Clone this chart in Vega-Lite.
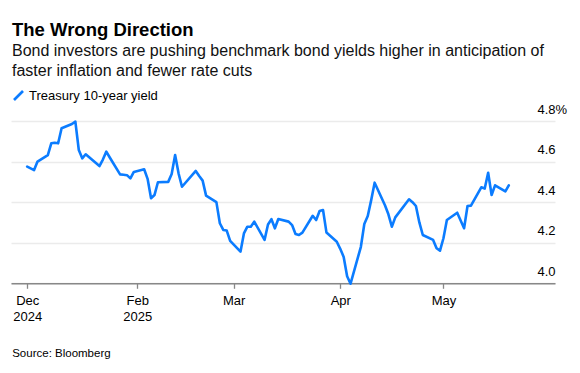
{
  "$schema": "https://vega.github.io/schema/vega-lite/v6.json",
  "width": 544,
  "height": 162.3,
  "autosize": {"type": "none"},
  "padding": {"left": 11, "top": 121, "right": 25, "bottom": 89.7},
  "background": "white",
  "config": {
    "font": "Liberation Sans",
    "view": {"stroke": null}
  },
  "title": {
    "text": "The Wrong Direction",
    "subtitle": ["Bond investors are pushing benchmark bond yields higher in anticipation of", "faster inflation and fewer rate cuts"],
    "anchor": "start",
    "frame": "group",
    "orient": "top",
    "dx": 1,
    "offset": 10,
    "font": "Liberation Sans",
    "fontSize": 18.5,
    "fontWeight": "bold",
    "color": "#000000",
    "subtitleFont": "Liberation Sans",
    "subtitleFontSize": 16,
    "subtitleLineHeight": 20,
    "subtitleColor": "#111111",
    "subtitlePadding": 4
  },
  "data": {
    "values": [
      {"date": "2024-12-31", "yield": 4.575},
      {"date": "2025-01-02", "yield": 4.558},
      {"date": "2025-01-03", "yield": 4.600},
      {"date": "2025-01-06", "yield": 4.632},
      {"date": "2025-01-07", "yield": 4.690},
      {"date": "2025-01-08", "yield": 4.693},
      {"date": "2025-01-09", "yield": 4.690},
      {"date": "2025-01-10", "yield": 4.764},
      {"date": "2025-01-13", "yield": 4.785},
      {"date": "2025-01-14", "yield": 4.797},
      {"date": "2025-01-15", "yield": 4.657},
      {"date": "2025-01-16", "yield": 4.616},
      {"date": "2025-01-17", "yield": 4.636},
      {"date": "2025-01-21", "yield": 4.578},
      {"date": "2025-01-22", "yield": 4.610},
      {"date": "2025-01-23", "yield": 4.649},
      {"date": "2025-01-24", "yield": 4.620},
      {"date": "2025-01-27", "yield": 4.537},
      {"date": "2025-01-28", "yield": 4.535},
      {"date": "2025-01-29", "yield": 4.533},
      {"date": "2025-01-30", "yield": 4.517},
      {"date": "2025-01-31", "yield": 4.549},
      {"date": "2025-02-03", "yield": 4.562},
      {"date": "2025-02-04", "yield": 4.515},
      {"date": "2025-02-05", "yield": 4.419},
      {"date": "2025-02-06", "yield": 4.435},
      {"date": "2025-02-07", "yield": 4.498},
      {"date": "2025-02-10", "yield": 4.500},
      {"date": "2025-02-11", "yield": 4.539},
      {"date": "2025-02-12", "yield": 4.632},
      {"date": "2025-02-13", "yield": 4.542},
      {"date": "2025-02-14", "yield": 4.476},
      {"date": "2025-02-18", "yield": 4.554},
      {"date": "2025-02-19", "yield": 4.529},
      {"date": "2025-02-20", "yield": 4.506},
      {"date": "2025-02-21", "yield": 4.432},
      {"date": "2025-02-24", "yield": 4.400},
      {"date": "2025-02-25", "yield": 4.296},
      {"date": "2025-02-26", "yield": 4.263},
      {"date": "2025-02-27", "yield": 4.260},
      {"date": "2025-02-28", "yield": 4.209},
      {"date": "2025-03-03", "yield": 4.156},
      {"date": "2025-03-04", "yield": 4.246},
      {"date": "2025-03-05", "yield": 4.279},
      {"date": "2025-03-06", "yield": 4.279},
      {"date": "2025-03-07", "yield": 4.304},
      {"date": "2025-03-10", "yield": 4.214},
      {"date": "2025-03-11", "yield": 4.290},
      {"date": "2025-03-12", "yield": 4.316},
      {"date": "2025-03-13", "yield": 4.271},
      {"date": "2025-03-14", "yield": 4.317},
      {"date": "2025-03-17", "yield": 4.304},
      {"date": "2025-03-18", "yield": 4.287},
      {"date": "2025-03-19", "yield": 4.243},
      {"date": "2025-03-20", "yield": 4.238},
      {"date": "2025-03-21", "yield": 4.250},
      {"date": "2025-03-24", "yield": 4.333},
      {"date": "2025-03-25", "yield": 4.312},
      {"date": "2025-03-26", "yield": 4.356},
      {"date": "2025-03-27", "yield": 4.361},
      {"date": "2025-03-28", "yield": 4.250},
      {"date": "2025-03-31", "yield": 4.205},
      {"date": "2025-04-01", "yield": 4.170},
      {"date": "2025-04-02", "yield": 4.130},
      {"date": "2025-04-03", "yield": 4.035},
      {"date": "2025-04-04", "yield": 3.998},
      {"date": "2025-04-07", "yield": 4.180},
      {"date": "2025-04-08", "yield": 4.292},
      {"date": "2025-04-09", "yield": 4.332},
      {"date": "2025-04-10", "yield": 4.410},
      {"date": "2025-04-11", "yield": 4.496},
      {"date": "2025-04-14", "yield": 4.385},
      {"date": "2025-04-15", "yield": 4.340},
      {"date": "2025-04-16", "yield": 4.279},
      {"date": "2025-04-17", "yield": 4.325},
      {"date": "2025-04-21", "yield": 4.414},
      {"date": "2025-04-22", "yield": 4.400},
      {"date": "2025-04-23", "yield": 4.381},
      {"date": "2025-04-24", "yield": 4.300},
      {"date": "2025-04-25", "yield": 4.238},
      {"date": "2025-04-28", "yield": 4.214},
      {"date": "2025-04-29", "yield": 4.173},
      {"date": "2025-04-30", "yield": 4.161},
      {"date": "2025-05-01", "yield": 4.222},
      {"date": "2025-05-02", "yield": 4.312},
      {"date": "2025-05-05", "yield": 4.348},
      {"date": "2025-05-06", "yield": 4.310},
      {"date": "2025-05-07", "yield": 4.271},
      {"date": "2025-05-08", "yield": 4.381},
      {"date": "2025-05-09", "yield": 4.383},
      {"date": "2025-05-12", "yield": 4.473},
      {"date": "2025-05-13", "yield": 4.467},
      {"date": "2025-05-14", "yield": 4.545},
      {"date": "2025-05-15", "yield": 4.435},
      {"date": "2025-05-16", "yield": 4.483},
      {"date": "2025-05-19", "yield": 4.453},
      {"date": "2025-05-20", "yield": 4.483}
    ]
  },
  "mark": {"type": "line", "strokeWidth": 2.6, "interpolate": "linear", "strokeJoin": "round", "strokeCap": "round", "clip": false},
  "encoding": {
    "x": {
      "field": "date",
      "type": "temporal",
      "scale": {
        "type": "utc",
        "domain": [
          {"year": 2024, "month": 12, "date": 26, "hours": 7, "utc": true},
          {"year": 2025, "month": 6, "date": 2, "hours": 10, "minutes": 20, "utc": true}
        ]
      },
      "axis": {
        "title": "Source: Bloomberg",
        "titleFont": "Liberation Sans",
        "titleFontSize": 11.5,
        "titleFontWeight": "normal",
        "titleColor": "#000000",
        "titleAnchor": "start",
        "titleAlign": "left",
        "titleBaseline": "alphabetic",
        "titleX": 0.7,
        "titleY": 72.7,
        "values": [
          {"year": 2024, "month": 12, "date": 31, "utc": true},
          {"year": 2025, "month": 2, "date": 1, "utc": true},
          {"year": 2025, "month": 3, "date": 1, "utc": true},
          {"year": 2025, "month": 4, "date": 1, "utc": true},
          {"year": 2025, "month": 5, "date": 1, "utc": true}
        ],
        "labelExpr": "utcmonth(datum.value) == 11 ? ['Dec', '2024'] : (utcmonth(datum.value) == 1 ? ['Feb', '2025'] : utcFormat(datum.value, '%b'))",
        "labelFont": "Liberation Sans",
        "labelFontSize": 13,
        "labelColor": "#000000",
        "labelLineHeight": 16,
        "labelPadding": 6,
        "labelFlush": false,
        "labelOverlap": false,
        "labelBaseline": "top",
        "grid": false,
        "domainColor": "#888888",
        "domainWidth": 1.6,
        "tickColor": "#888888",
        "tickWidth": 1.3,
        "tickSize": 5
      }
    },
    "y": {
      "field": "yield",
      "type": "quantitative",
      "scale": {"domain": [4.0, 4.8], "nice": false, "zero": false},
      "axis": {
        "orient": "right",
        "title": null,
        "values": [4.0, 4.2, 4.4, 4.6, 4.8],
        "labelExpr": "datum.value >= 4.79 ? '4.8%' : format(datum.value, '.1f')",
        "labelFont": "Liberation Sans",
        "labelFontSize": 13,
        "labelColor": "#000000",
        "labelAlign": "left",
        "labelBaseline": "alphabetic",
        "labelPadding": -18,
        "labelOffset": -8,
        "labelOverlap": false,
        "labelFlush": false,
        "domain": false,
        "ticks": false,
        "grid": true,
        "gridColor": "#ebebeb",
        "gridWidth": 1.5
      }
    },
    "color": {
      "datum": "Treasury 10-year yield",
      "type": "nominal",
      "scale": {"range": ["#0b7cff"]},
      "legend": {
        "title": null,
        "orient": "none",
        "legendX": 1,
        "legendY": -32,
        "padding": 0,
        "symbolType": "M-1,1L1,-1",
        "symbolSize": 81,
        "symbolStrokeWidth": 2.6,
        "symbolFillColor": "transparent",
        "labelFont": "Liberation Sans",
        "labelFontSize": 13,
        "labelColor": "#000000",
        "labelOffset": 4
      }
    }
  }
}
